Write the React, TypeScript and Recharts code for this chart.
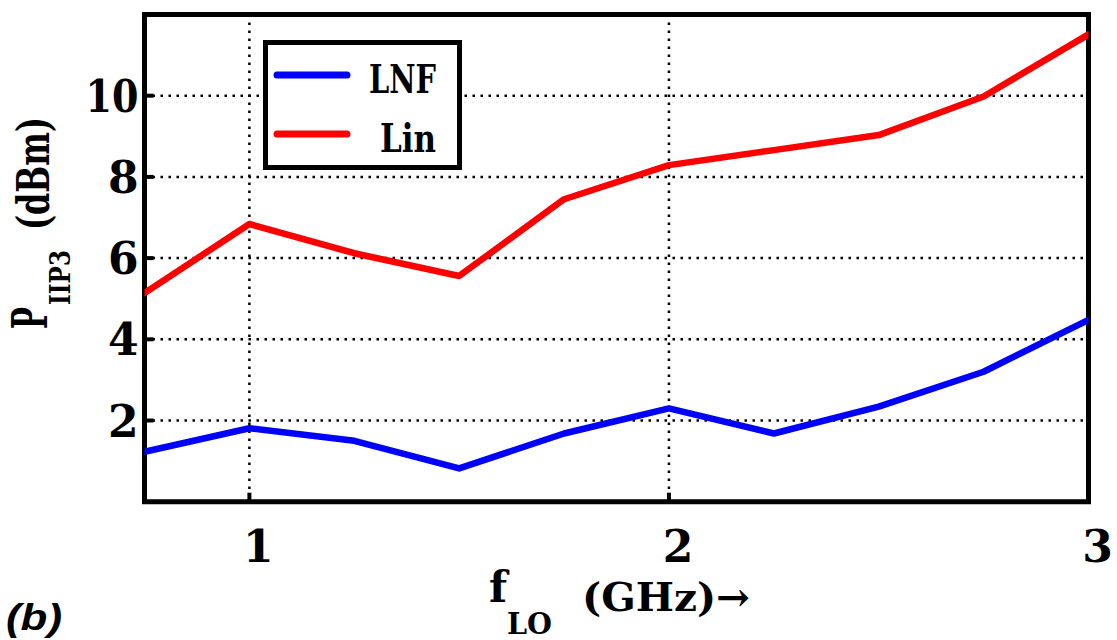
import React from "react";
import {
  LineChart,
  Line,
  XAxis,
  YAxis,
  CartesianGrid,
  ReferenceArea,
  Legend,
} from "recharts";

const freqs = [0.75, 1, 1.25, 1.5, 1.75, 2, 2.25, 2.5, 2.75, 3];
const lnfValues = [1.23, 1.81, 1.5, 0.82, 1.68, 2.3, 1.68, 2.34, 3.2, 4.48];
const linValues = [5.14, 6.84, 6.12, 5.56, 7.45, 8.29, 8.66, 9.03, 9.98, 11.51];
const xTicks = [1, 2, 3];
const yTicks = [2, 4, 6, 8, 10];
const seriesNames = ["LNF", "Lin"];
const seriesColors = ["#0000FF", "#FF0000"];

const data = freqs.map((f, i) => ({ f, lnf: lnfValues[i], lin: linValues[i] }));

const SERIF = "'DejaVu Serif', serif";

const BottomTick = (props: any) => {
  const { x, y, payload } = props;
  return (
    <g>
      <line x1={x} x2={x} y1={y} y2={y - 9} stroke="#000" strokeWidth={4} />
      <text
        x={x + 9}
        y={y + 60}
        textAnchor="middle"
        fontFamily={SERIF}
        fontWeight="bold"
        fontSize={44}
        fill="#000"
      >
        {payload.value}
      </text>
    </g>
  );
};

const TopTick = (props: any) => {
  const { x, y } = props;
  return <line x1={x} x2={x} y1={y} y2={y + 9} stroke="#000" strokeWidth={4} />;
};

const LeftTick = (props: any) => {
  const { x, y, payload } = props;
  const s = String(payload.value);
  return (
    <g>
      <line x1={x} x2={x + 9} y1={y} y2={y} stroke="#000" strokeWidth={4} />
      <text
        x={x - 6}
        y={y + 16}
        textAnchor="end"
        fontFamily={SERIF}
        fontWeight="bold"
        fontSize={44}
        fill="#000"
        {...(s.length > 1 ? { textLength: 53, lengthAdjust: "spacingAndGlyphs" } : {})}
      >
        {s}
      </text>
    </g>
  );
};

const RightTick = (props: any) => {
  const { x, y } = props;
  return <line x1={x} x2={x - 9} y1={y} y2={y} stroke="#000" strokeWidth={4} />;
};

const YLabel = () => (
  <g fontFamily={SERIF} fontWeight="bold" fill="#000">
    <text transform="translate(47,329) rotate(-90)" fontSize={48} textLength={22} lengthAdjust="spacingAndGlyphs">
      P
    </text>
    <text transform="translate(70,305) rotate(-90)" fontSize={28} textLength={55} lengthAdjust="spacingAndGlyphs">
      IIP3
    </text>
    <text transform="translate(49,230) rotate(-90)" fontSize={44} textLength={113} lengthAdjust="spacingAndGlyphs">
      (dBm)
    </text>
  </g>
);

const XLabel = () => (
  <g fill="#000">
    <g fontFamily={SERIF} fontWeight="bold">
      <text x={489} y={602} fontSize={42}>
        f
      </text>
      <text x={507} y={634} fontSize={30} textLength={45} lengthAdjust="spacingAndGlyphs">
        LO
      </text>
      <text x={582} y={611} fontSize={40} textLength={168} lengthAdjust="spacingAndGlyphs">
        (GHz)→
      </text>
    </g>
    <text
      x={6}
      y={630}
      fontFamily="'Liberation Sans', Arial, sans-serif"
      fontWeight="bold"
      fontStyle="italic"
      fontSize={36}
      textLength={56}
      lengthAdjust="spacingAndGlyphs"
    >
      (b)
    </text>
  </g>
);

const LegendBox = (props: any) => {
  const payload = props.payload || [];
  return (
    <svg width={199} height={130} style={{ display: "block" }}>
      <rect x={2.5} y={2.5} width={194} height={125} fill="#fff" stroke="#000" strokeWidth={5} />
      {payload.map((p: any, i: number) => {
        const ly = i === 0 ? 35 : 94;
        return (
          <g key={i}>
            <line x1={14} x2={84} y1={ly} y2={ly} stroke={p.color} strokeWidth={7} strokeLinecap="round" />
            <text
              x={173}
              y={ly + 18}
              textAnchor="end"
              fontFamily={SERIF}
              fontWeight="bold"
              fontSize={40}
              fill="#000"
              textLength={i === 0 ? 67 : 56}
              lengthAdjust="spacingAndGlyphs"
            >
              {p.value}
            </text>
          </g>
        );
      })}
    </svg>
  );
};

export default function App() {
  return (
    <div style={{ position: "absolute", left: 0, top: 0, width: 1117, height: 640, background: "#fff" }}>
      <LineChart
        width={1117}
        height={640}
        data={data}
        margin={{ top: 14.5, right: 28.5, bottom: 0, left: 0 }}
      >
        <CartesianGrid stroke="#000" strokeWidth={2.5} strokeDasharray="2.5 5.5" />
        <XAxis
          dataKey="f"
          type="number"
          domain={[0.75, 3]}
          ticks={xTicks}
          allowDataOverflow
          height={138.3}
          axisLine={false}
          tickLine={false}
          tickSize={0}
          tickMargin={0}
          tick={<BottomTick />}
          interval={0}
          label={<XLabel />}
        />
        <XAxis
          xAxisId="t"
          dataKey="f"
          type="number"
          orientation="top"
          domain={[0.75, 3]}
          ticks={xTicks}
          allowDataOverflow
          height={0}
          axisLine={false}
          tickLine={false}
          tickSize={0}
          tickMargin={0}
          tick={<TopTick />}
          interval={0}
        />
        <YAxis
          type="number"
          domain={[0, 12]}
          ticks={yTicks}
          allowDataOverflow
          width={144.5}
          axisLine={false}
          tickLine={false}
          tickSize={0}
          tickMargin={0}
          tick={<LeftTick />}
          interval={0}
          label={<YLabel />}
        />
        <YAxis
          yAxisId="r"
          orientation="right"
          type="number"
          domain={[0, 12]}
          ticks={yTicks}
          allowDataOverflow
          width={0}
          axisLine={false}
          tickLine={false}
          tickSize={0}
          tickMargin={0}
          tick={<RightTick />}
          interval={0}
        />
        <ReferenceArea
          x1={0.75}
          x2={3}
          y1={0}
          y2={12}
          fill="none"
          fillOpacity={0}
          stroke="#000"
          strokeWidth={5}
          ifOverflow="visible"
        />
        <Line
          type="linear"
          dataKey="lnf"
          name={seriesNames[0]}
          stroke={seriesColors[0]}
          strokeWidth={6.5}
          dot={false}
          activeDot={false}
          strokeLinecap="round"
          strokeLinejoin="round"
          isAnimationActive={false}
        />
        <Line
          type="linear"
          dataKey="lin"
          name={seriesNames[1]}
          stroke={seriesColors[1]}
          strokeWidth={6.5}
          dot={false}
          activeDot={false}
          strokeLinecap="round"
          strokeLinejoin="round"
          isAnimationActive={false}
        />
        <Legend
          layout="vertical"
          align="center"
          verticalAlign="middle"
          content={<LegendBox />}
          wrapperStyle={{ left: 263, top: 40, width: 199, height: 130, position: "absolute" }}
        />
      </LineChart>
    </div>
  );
}
